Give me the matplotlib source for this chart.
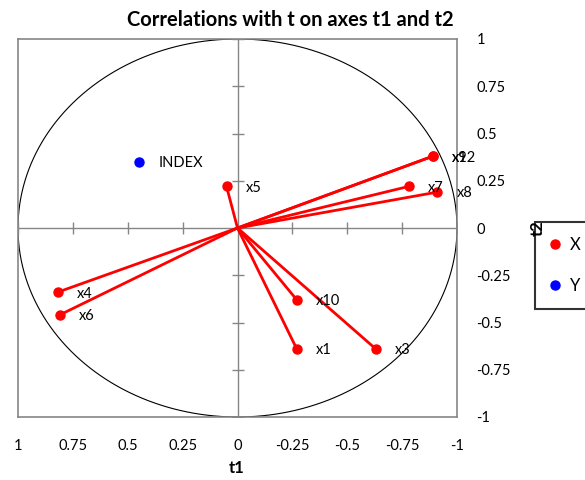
import matplotlib
matplotlib.use("Agg")
import matplotlib.pyplot as plt
import numpy as np

plt.rcParams["font.family"] = ["Lato", "DejaVu Sans"]

# variables (group X) - correlations with t1 / t2
x_names = ["x1", "x3", "x4", "x5", "x6", "x7", "x8", "x9", "x10", "x12"]
x_t1 = [-0.27, -0.63, 0.82, 0.05, 0.81, -0.78, -0.91, -0.89, -0.27, -0.89]
x_t2 = [-0.64, -0.64, -0.34, 0.22, -0.46, 0.22, 0.19, 0.38, -0.38, 0.38]
# group Y
y_names = ["INDEX"]
y_t1 = [0.45]
y_t2 = [0.35]

ticks = [-1, -0.75, -0.5, -0.25, 0, 0.25, 0.5, 0.75, 1]
tick_labels = ["-1", "-0.75", "-0.5", "-0.25", "0", "0.25", "0.5", "0.75", "1"]

RED, BLUE, GRAY = "#ff0000", "#0000ff", "#868686"

fig = plt.figure(figsize=(5.85, 4.8), dpi=100)
ax = fig.add_axes([18 / 585, 63 / 480, 439 / 585, 378 / 480])

# unit circle
th = np.linspace(0, 2 * np.pi, 400)
ax.plot(np.cos(th), np.sin(th), color="black", lw=0.8, zorder=1)

# axes through origin with cross ticks
ax.axhline(0, color=GRAY, lw=1.0, zorder=1)
ax.axvline(0, color=GRAY, lw=1.0, zorder=1)
inner = [t for t in ticks if t != 0]
ax.plot(inner, [0] * len(inner), ls="none", marker="|", ms=8, mew=1.0, color=GRAY, zorder=1)
ax.plot([0] * len(inner), inner, ls="none", marker="_", ms=8, mew=1.0, color=GRAY, zorder=1)

# vectors from origin
for a, b in zip(x_t1, x_t2):
    ax.plot([0, a], [0, b], color=RED, lw=2, zorder=2)
ax.plot(x_t1, x_t2, ls="none", marker="o", ms=6.5, color=RED, label="X", zorder=3)
ax.plot(y_t1, y_t2, ls="none", marker="o", ms=6.5, color=BLUE, label="Y", zorder=3)

for n, a, b in zip(x_names + y_names, x_t1 + y_t1, x_t2 + y_t2):
    ax.annotate(n, (a, b), xytext=(14, -1), textcoords="offset points",
                ha="left", va="center", fontsize=10.5)

ax.set_xlim(1, -1)
ax.set_ylim(-1, 1)
ax.set_xticks(ticks)
ax.set_xticklabels(tick_labels)
ax.set_yticks(ticks)
ax.set_yticklabels(tick_labels)
ax.yaxis.tick_right()
ax.tick_params(length=0, labelsize=10.5)
ax.tick_params(axis="x", pad=16)
ax.tick_params(axis="y", pad=14)
for lbl in ax.get_yticklabels():
    lbl.set_horizontalalignment("left")
for s in ax.spines.values():
    s.set_color(GRAY)
    s.set_linewidth(1.2)

fig.text(237 / 585, 1 - 468 / 480, "t1", fontweight="bold", fontsize=12,
         ha="center", va="center")
fig.text(290 / 585, 1 - 20 / 480, "Correlations with t on axes t1 and t2",
         fontweight="bold", fontsize=14.5, ha="center", va="center")

leg = fig.legend(loc="upper left", bbox_to_anchor=(535 / 585, 1 - 222 / 480),
                 borderaxespad=0, frameon=True, fancybox=False, handlelength=0.6,
                 handletextpad=0.6, labelspacing=1.5, fontsize=12, borderpad=0.9)
leg.get_frame().set_edgecolor("black")
leg.get_frame().set_linewidth(1.5)
leg.set_zorder(4)

# t2 axis title sits over the legend's corner, as in the original
fig.text(538 / 585, 1 - 228 / 480, "t2", rotation=90, fontweight="bold", fontsize=12,
         ha="center", va="center", zorder=10)

fig.savefig("out.png", dpi=100)
